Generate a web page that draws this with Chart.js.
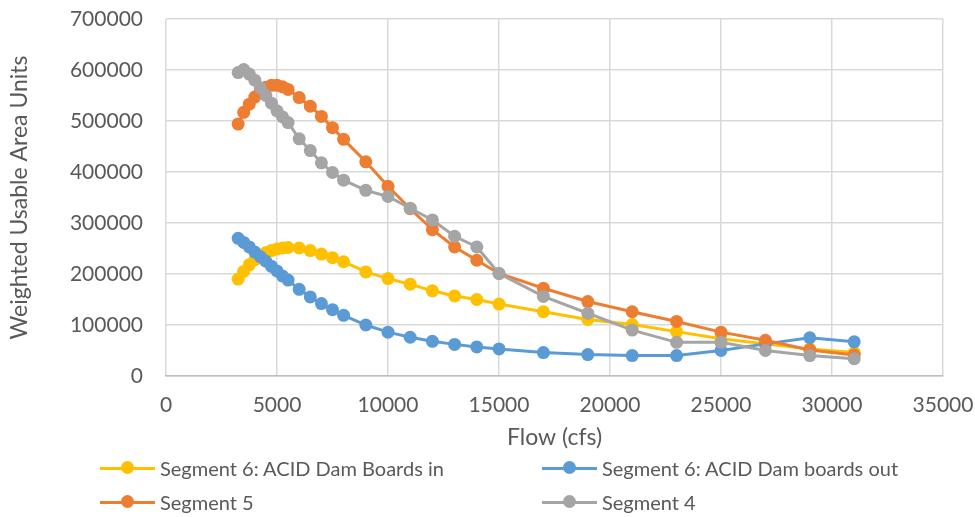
<!DOCTYPE html>
<html>
<head>
<meta charset="utf-8">
<script src="https://cdn.jsdelivr.net/npm/chart.js@4.4.1/dist/chart.umd.min.js"></script>
<style>
  body { margin: 0; background: #fff; }
  #wrap { position: relative; width: 975px; height: 517px; }
  #legend { position: absolute; left: 0; top: 0; font-family: Lato, sans-serif; font-size: 20px; color: #595959; }
  .item { position: absolute; display: flex; align-items: center; white-space: nowrap; }
  .sw { position: relative; width: 55px; height: 14px; margin-right: 5px; }
  .sw .ln { position: absolute; left: 0; right: 0; top: 5.5px; height: 3px; }
  .sw .dt { position: absolute; left: 21px; top: 0; width: 13px; height: 13px; border-radius: 50%; }
</style>
</head>
<body>
<div id="wrap">
  <canvas id="chart" width="975" height="517"></canvas>
  <div id="legend"></div>
</div>
<script>
const flows = [3250, 3500, 3750, 4000, 4250, 4500, 4750, 5000, 5250, 5500, 6000, 6500, 7000, 7500, 8000,
    9000, 10000, 11000, 12000, 13000, 14000, 15000, 17000, 19000, 21000, 23000, 25000, 27000, 29000, 31000];

const seg6In = [190000, 205000, 218000, 228000, 236000, 242000, 246000, 249000, 251000, 252000, 251000, 246000, 239000, 232000, 224000,
    204000, 191000, 180000, 167000, 157000, 150000, 141000, 126000, 111000, 101000, 87000, 73000, 63000, 53000, 46000];

const seg6Out = [270000, 262000, 253000, 243000, 234000, 225000, 215000, 206000, 196000, 188000, 170000, 155000, 142000, 130000, 119000,
    100000, 86000, 76000, 68000, 62000, 57000, 53000, 46000, 42000, 40000, 40000, 50000, 63000, 75000, 67000];

const seg5 = [494000, 517000, 533000, 547000, 558000, 566000, 570000, 570000, 567000, 562000, 546000, 529000, 509000, 487000, 464000,
    420000, 372000, 328000, 287000, 253000, 227000, 201000, 172000, 146000, 126000, 107000, 86000, 70000, 51000, 41000];

const seg4 = [595000, 601000, 592000, 580000, 565000, 550000, 535000, 520000, 508000, 497000, 465000, 442000, 418000, 399000, 384000,
    364000, 352000, 329000, 306000, 274000, 253000, 201000, 156000, 123000, 90000, 66000, 66000, 50000, 40000, 34000];

const seriesNames = ["Segment 6: ACID Dam Boards in", "Segment 6: ACID Dam boards out", "Segment 5", "Segment 4"];
const seriesColors = ["#FFC000", "#5B9BD5", "#ED7D31", "#A5A5A5"];
const seriesValues = [seg6In, seg6Out, seg5, seg4];

const FONT = "Lato, sans-serif";
const TXT = "#595959";

const datasets = seriesValues.map((vals, i) => ({
    label: seriesNames[i],
    data: flows.map((f, k) => ({ x: f, y: vals[k] })),
    borderColor: seriesColors[i],
    backgroundColor: seriesColors[i],
    borderWidth: 3,
    pointRadius: 6.5,
    pointBorderWidth: 0,
    tension: 0,
    order: 3 - i   // later series drawn on top, like the original
}));

new Chart(document.getElementById("chart"), {
    type: "line",
    data: { datasets },
    options: {
        responsive: false,
        animation: false,
        layout: { padding: { left: 0, top: 19, right: 32, bottom: 62 } },
        plugins: { legend: { display: false }, tooltip: { enabled: false } },
        scales: {
            x: {
                type: "linear",
                min: 0, max: 35000,
                ticks: { stepSize: 5000, padding: 17, color: TXT, font: { family: FONT, size: 21 },
                    maxRotation: 0, callback: v => String(v) },
                grid: { color: "#d9d9d9", lineWidth: 1.5, drawTicks: false },
                border: { color: "#bfbfbf", width: 1.5 },
                title: { display: true, text: "Flow (cfs)", color: TXT, font: { family: FONT, size: 23 }, padding: { top: 4, bottom: 4 } },
                afterFit: s => { s.height = 79; s.paddingLeft = 0; s.paddingRight = 0; }
            },
            y: {
                min: 0, max: 700000,
                ticks: { stepSize: 100000, padding: 23, color: TXT, font: { family: FONT, size: 21 },
                    callback: v => String(v) },
                grid: { color: "#d9d9d9", lineWidth: 1.5, drawTicks: false },
                border: { display: false },
                title: { display: true, text: "Weighted Usable Area Units", color: TXT, font: { family: FONT, size: 23 }, padding: { top: 6, bottom: 4 } },
                afterFit: s => { s.width = 166; s.paddingTop = 0; s.paddingBottom = 0; }
            }
        }
    }
});

/* legend, two columns like the original */
const legendPos = [[100, 468], [542, 468], [100, 502], [542, 502]];
document.getElementById("legend").innerHTML = seriesNames.map((n, i) =>
    `<div class="item" style="left:${legendPos[i][0]}px;top:${legendPos[i][1] - 12}px;height:24px">
        <div class="sw"><div class="ln" style="background:${seriesColors[i]}"></div><div class="dt" style="background:${seriesColors[i]}"></div></div>
        <span>${n}</span></div>`
).join("");
</script>
</body>
</html>
